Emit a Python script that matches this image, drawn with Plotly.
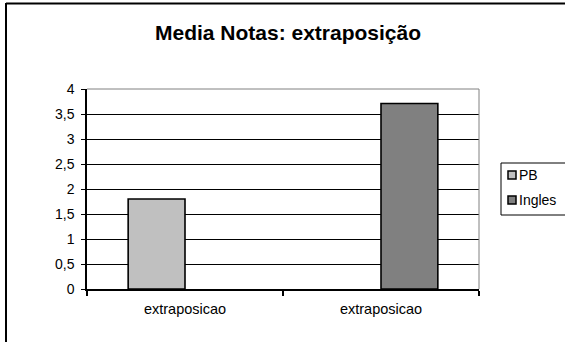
import plotly.graph_objects as go

# Chart data
categories = ["extraposicao", "extraposicao"]
series_names = ["PB", "Ingles"]
pb_values = [1.8, None]
ingles_values = [None, 3.71]
bar_colors = ["#C0C0C0", "#808080"]

W, H = 565, 342
L, R, T, B = 87, 479, 89, 289  # plot area in pixels


def px_x(x):
    return (x - L) / (R - L)


def px_y(y):
    return (B - y) / (B - T)


FONT = "Liberation Sans, Arial, sans-serif"
x_pos = list(range(len(categories)))

fig = go.Figure()
for name, vals, col in zip(series_names, [pb_values, ingles_values], bar_colors):
    fig.add_trace(go.Bar(
        x=x_pos, y=vals, name=name,
        marker=dict(color=col, line=dict(color="black", width=1.6)),
        showlegend=False,
    ))

shapes = [
    # plot-area frame (top and right in grey)
    dict(type="line", xref="paper", yref="paper", x0=0, x1=1, y0=1, y1=1,
         line=dict(color="#808080", width=1)),
    dict(type="line", xref="paper", yref="paper", x0=1, x1=1, y0=0, y1=1,
         line=dict(color="#808080", width=1)),
    # chart frame
    dict(type="line", xref="paper", yref="paper", x0=px_x(6), x1=px_x(6),
         y0=px_y(3), y1=px_y(345), line=dict(color="black", width=2)),
    dict(type="line", xref="paper", yref="paper", x0=px_x(6), x1=px_x(570),
         y0=px_y(3.5), y1=px_y(3.5), line=dict(color="black", width=2)),
    # legend box
    dict(type="rect", xref="paper", yref="paper", x0=px_x(501), x1=px_x(600),
         y0=px_y(215), y1=px_y(163), line=dict(color="black", width=1),
         fillcolor="white"),
]

annotations = []
legend_rows = [175, 200]
for name, col, yy in zip(series_names, bar_colors, legend_rows):
    shapes.append(dict(type="rect", xref="paper", yref="paper",
                       x0=px_x(508), x1=px_x(516), y0=px_y(yy + 4), y1=px_y(yy - 4),
                       fillcolor=col, line=dict(color="black", width=1.5)))
    annotations.append(dict(xref="paper", yref="paper", x=px_x(517), y=px_y(yy),
                            text=name, showarrow=False, xanchor="left",
                            yanchor="middle",
                            font=dict(family=FONT, size=14, color="black")))

fig.update_layout(
    width=W, height=H,
    margin=dict(l=L, r=W - R, t=T, b=H - B, pad=0),
    paper_bgcolor="white", plot_bgcolor="white",
    separators=",.",
    barmode="group", bargap=0.42, bargroupgap=0,
    title=dict(text="<b>Media Notas: extraposição</b>", xref="container",
               yref="container", x=288 / W, y=1 - 33 / H,
               xanchor="center", yanchor="middle",
               font=dict(family=FONT, size=21, color="black")),
    font=dict(family=FONT, size=14, color="black"),
    shapes=shapes,
    annotations=annotations,
    showlegend=False,
)

fig.update_xaxes(
    range=[-0.5, len(categories) - 0.5],
    tickmode="array", tickvals=x_pos, ticktext=categories,
    ticks="", showgrid=False, zeroline=False,
    showline=True, linecolor="black", linewidth=1.5,
    ticklabelstandoff=6,
    tickfont=dict(family=FONT, size=14.5, color="black"),
    minor=dict(tickmode="array",
               tickvals=[i - 0.5 for i in range(len(categories) + 1)],
               ticks="outside", ticklen=5, tickcolor="black", tickwidth=1.5,
               showgrid=False),
)
fig.update_yaxes(
    range=[0, 4], dtick=0.5, tick0=0,
    showgrid=True, gridcolor="black", gridwidth=1,
    zeroline=False, showline=True, linecolor="black", linewidth=1.5,
    ticks="outside", ticklen=4, tickcolor="black", tickwidth=1,
    ticklabelstandoff=4,
    tickfont=dict(family=FONT, size=14, color="black"),
)

fig.write_html("out.html")
